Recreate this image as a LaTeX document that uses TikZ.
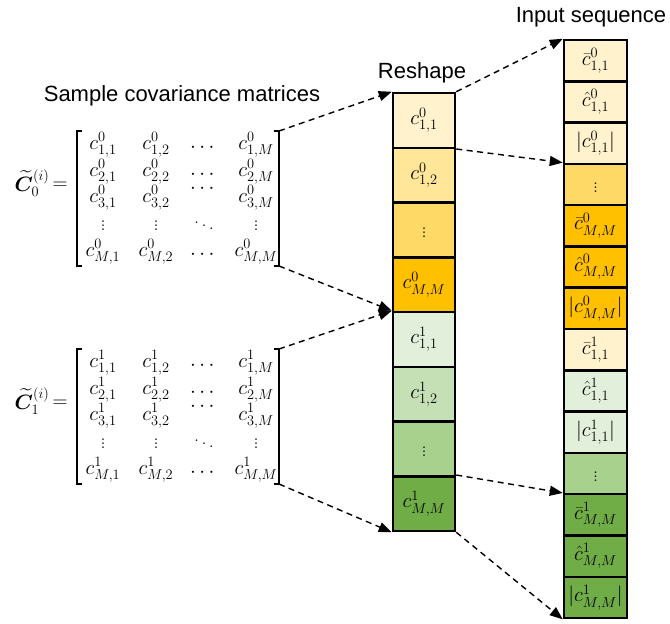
\documentclass[tikz,border=0pt]{standalone}
\usepackage{amsmath,bm}
\usepackage{fontspec}
\setsansfont{Liberation Sans}
\usetikzlibrary{arrows.meta}
\definecolor{ya}{HTML}{FFF2CC}
\definecolor{yb}{HTML}{FFE699}
\definecolor{yc}{HTML}{FFD966}
\definecolor{yd}{HTML}{FFC000}
\definecolor{ga}{HTML}{E2EFDA}
\definecolor{gb}{HTML}{C5E0B4}
\definecolor{gc}{HTML}{A9D18E}
\definecolor{gd}{HTML}{70AD47}
\tikzset{
  mfont/.style={font=\fontsize{20}{24}\selectfont},
  title/.style={font=\sffamily\fontsize{22}{25}\selectfont, inner sep=0pt},
  mcell/.style={draw=black, line width=2.5pt, minimum width=62pt, minimum height=54.75pt, inner sep=0pt, mfont},
  rcell/.style={draw=black, line width=2.5pt, minimum width=63pt, minimum height=41.29pt, inner sep=0pt, mfont},
  entry/.style={mfont, inner sep=0pt},
  brk/.style={line width=1.4pt},
  dasharrow/.style={line width=1.4pt, dash pattern=on 6pt off 4.5pt, -{Triangle[length=13pt,width=10pt]}},
}
\newcommand\covmat[3]{%
  % #1 superscript, #2 top y, #3 name prefix
  \node[entry] (#3-1-1) at (103,#2+14) {$c^{#1}_{1,1}$};
  \node[entry] (#3-1-2) at (156,#2+14) {$c^{#1}_{1,2}$};
  \node[entry] (#3-1-3) at (204,#2+17) {$\cdots$};
  \node[entry] (#3-1-4) at (256,#2+14) {$c^{#1}_{1,M}$};
  \node[entry] (#3-2-1) at (103,#2+41) {$c^{#1}_{2,1}$};
  \node[entry] (#3-2-2) at (156,#2+41) {$c^{#1}_{2,2}$};
  \node[entry] (#3-2-3) at (204,#2+44) {$\cdots$};
  \node[entry] (#3-2-4) at (256,#2+41) {$c^{#1}_{2,M}$};
  \node[entry] (#3-3-1) at (103,#2+67) {$c^{#1}_{3,1}$};
  \node[entry] (#3-3-2) at (156,#2+67) {$c^{#1}_{3,2}$};
  \node[entry] (#3-3-3) at (204,#2+58) {$\cdots$};
  \node[entry] (#3-3-4) at (256,#2+67) {$c^{#1}_{3,M}$};
  \node[entry] (#3-4-1) at (103,#2+92) {$\vdots$};
  \node[entry] (#3-4-2) at (156,#2+92) {$\vdots$};
  \node[entry] (#3-4-3) at (204,#2+92) {$\ddots$};
  \node[entry] (#3-4-4) at (256,#2+92) {$\vdots$};
  \node[entry] (#3-5-1) at (103,#2+121) {$c^{#1}_{M,1}$};
  \node[entry] (#3-5-2) at (156,#2+121) {$c^{#1}_{M,2}$};
  \node[entry] (#3-5-3) at (204,#2+124) {$\cdots$};
  \node[entry] (#3-5-4) at (256,#2+121) {$c^{#1}_{M,M}$};
  \coordinate (#3tl) at (77,#2);
  \coordinate (#3bl) at (77,#2+135);
  \coordinate (#3tr) at (279,#2);
  \coordinate (#3br) at (279,#2+135);
  \draw[brk] (82,#2) -- (#3tl) -- (#3bl) -- (82,#2+135);
  \draw[brk] (274,#2) -- (#3tr) -- (#3br) -- (274,#2+135);
  \node[entry] (#3lab) at (32,#2+52) {$\widetilde{\bm{C}}^{(i)}_{#1}$};
  \node[entry] (#3eq) at (60,#2+55) {$=$};
}
\begin{document}
\begin{tikzpicture}[x=1pt,y=-1pt]
\useasboundingbox (0,0) rectangle (670,624);

% titles
\node[title, anchor=base] (t1) at (182,101) {Sample covariance matrices};
\node[title, anchor=base] (t2) at (422,78) {Reshape};
\node[title, anchor=base] (t3) at (591,22) {Input sequence};

% matrices
\covmat{0}{131}{mA}
\covmat{1}{349}{mB}

% middle column
\foreach \i/\col/\txt in {
  1/ya/{c^{0}_{1,1}}, 2/yb/{c^{0}_{1,2}}, 3/yc/{\vdots}, 4/yd/{c^{0}_{M,M}},
  5/ga/{c^{1}_{1,1}}, 6/gb/{c^{1}_{1,2}}, 7/gc/{\vdots}, 8/gd/{c^{1}_{M,M}}}{
  \node[mcell, fill=\col] (m\i) at (424, 93+54.75*\i-27.375) {$\txt$};
}

% right column
\foreach \i/\col/\txt in {
  1/ya/{\bar{c}^{0}_{1,1}}, 2/ya/{\hat{c}^{0}_{1,1}}, 3/ya/{|c^{0}_{1,1}|},
  4/yc/{\vdots},
  5/yd/{\bar{c}^{0}_{M,M}}, 6/yd/{\hat{c}^{0}_{M,M}}, 7/yd/{|c^{0}_{M,M}|},
  8/ya/{\bar{c}^{1}_{1,1}}, 9/ga/{\hat{c}^{1}_{1,1}}, 10/ga/{|c^{1}_{1,1}|},
  11/gc/{\vdots},
  12/gd/{\bar{c}^{1}_{M,M}}, 13/gd/{\hat{c}^{1}_{M,M}}, 14/gd/{|c^{1}_{M,M}|}}{
  \node[rcell, fill=\col] (r\i) at (595.5, 40+41.29*\i-20.645) {$\txt$};
}

% arrows matrices -> middle
\draw[dasharrow] (mAtr) -- (m1.north west);
\draw[dasharrow] (mAbr) -- (m5.north west);
\draw[dasharrow] (mBtr) -- (m5.north west);
\draw[dasharrow] (mBbr) -- (m8.south west);

% arrows middle -> right
\draw[dasharrow] (m1.north east) -- (r1.north west);
\draw[dasharrow] (m1.south east) -- (r4.north west);
\draw[dasharrow] (m8.north east) -- (r12.north west);
\draw[dasharrow] (m8.south east) -- (r14.south west);
\end{tikzpicture}
\end{document}
